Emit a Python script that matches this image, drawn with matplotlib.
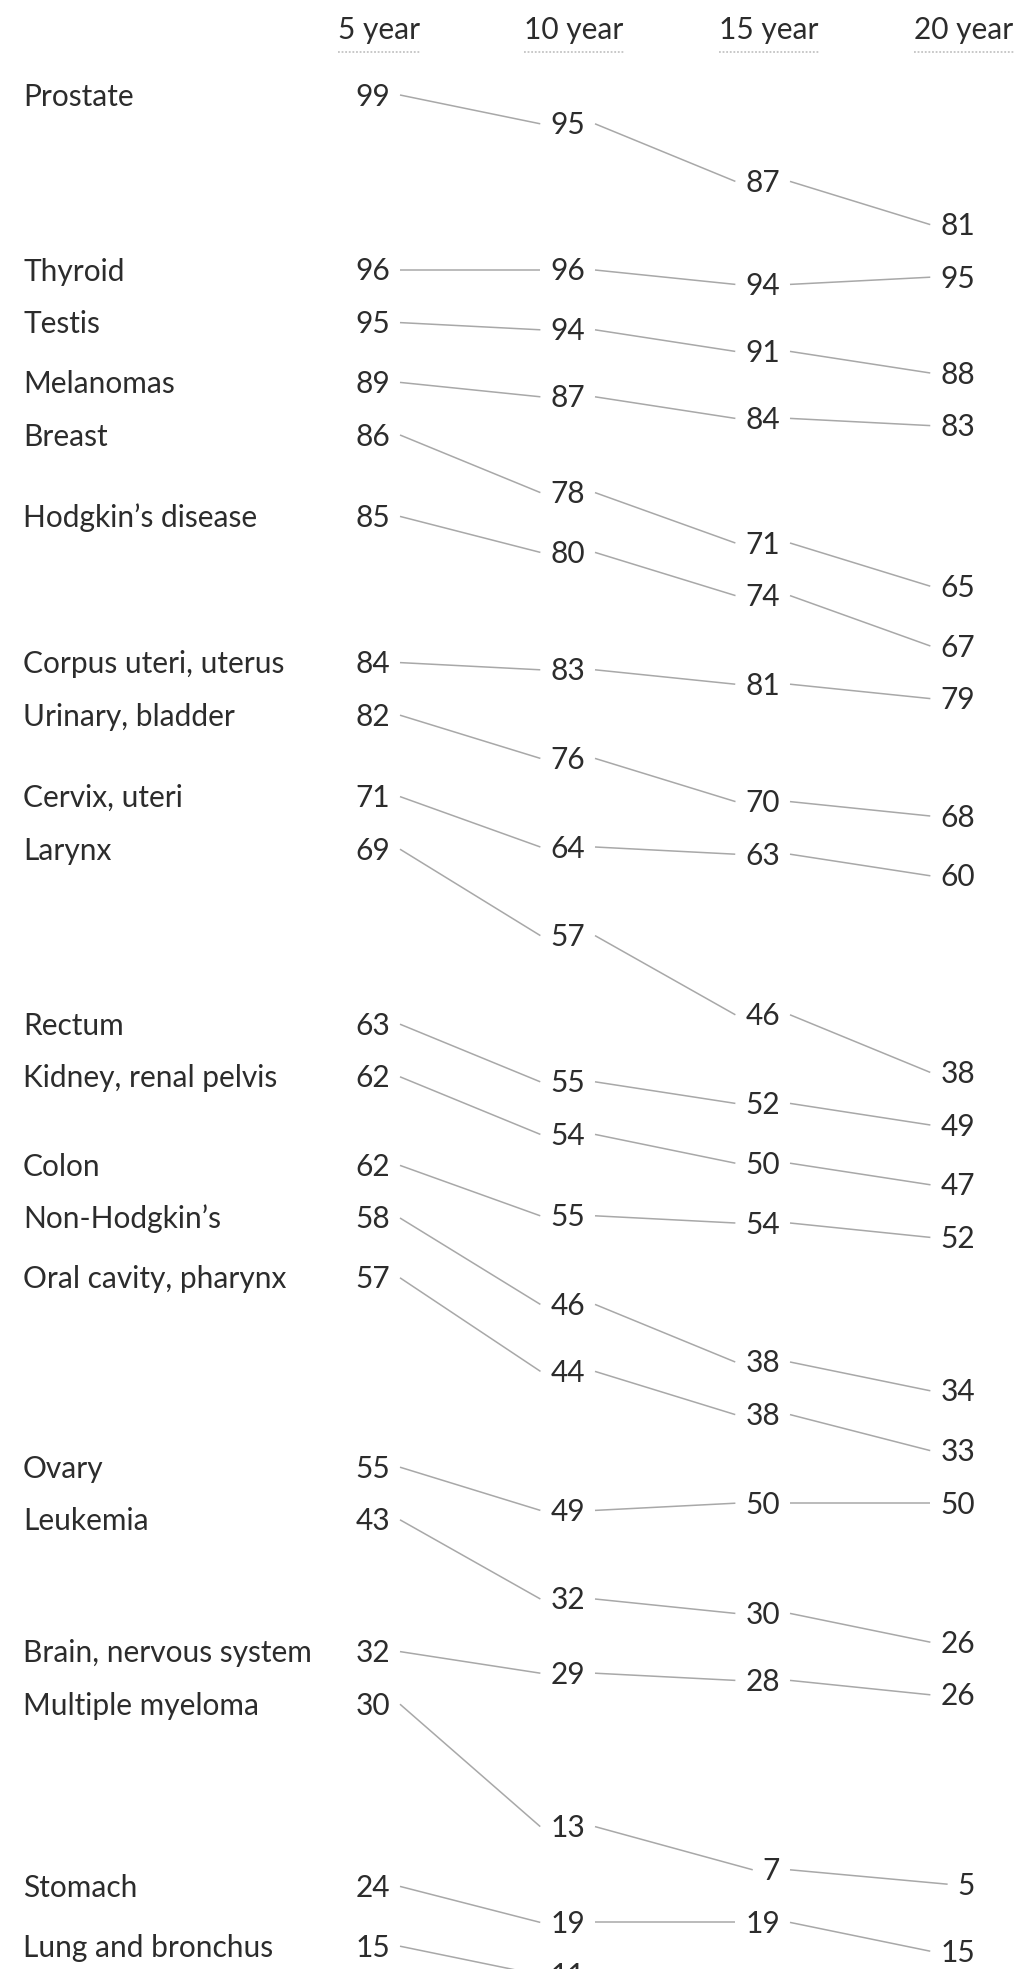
import numpy as np
import matplotlib
matplotlib.use("Agg")
import matplotlib.pyplot as plt
from matplotlib.transforms import offset_copy

plt.rcParams['font.family'] = ['Lato', 'DejaVu Sans']

# ===== Data: relative survival rates (%) by years after diagnosis =====
cancers = ["Prostate", "Thyroid", "Testis", "Melanomas", "Breast",
           "Hodgkin\u2019s disease", "Corpus uteri, uterus", "Urinary, bladder",
           "Cervix, uteri", "Larynx", "Rectum", "Kidney, renal pelvis", "Colon",
           "Non-Hodgkin\u2019s", "Oral cavity, pharynx", "Ovary", "Leukemia",
           "Brain, nervous system", "Multiple myeloma", "Stomach", "Lung and bronchus"]
yr5 = [99, 96, 95, 89, 86, 85, 84, 82, 71, 69, 63, 62, 62, 58, 57, 55, 43, 32, 30, 24, 15]
yr10 = [95, 96, 94, 87, 78, 80, 83, 76, 64, 57, 55, 54, 55, 46, 44, 49, 32, 29, 13, 19, 11]
yr15 = [87, 94, 91, 84, 71, 74, 81, 70, 63, 46, 52, 50, 54, 38, 38, 50, 30, 28, 7, 19, 8]
yr20 = [81, 95, 88, 83, 65, 67, 79, 68, 60, 38, 49, 47, 52, 34, 33, 50, 26, 26, 5, 15, 6]
columns = ["5 year", "10 year", "15 year", "20 year"]

# ===== Layout settings (pixels at dpi 100) =====
W_PX, H_PX = 1020, 1969
PX_PER_PT = 7.2        # vertical pixels per percentage point
MIN_GAP_PX = 52.6      # min distance between labels in one column
TOP_PX = 95            # centre of first row
COL0_PX = 390          # right edge of first number column
COL_STEP_PX = 195
LABEL_X_PX = 23
HEADER_BASE_PX = 39
UNDERLINE_PX = 52
FS = 21.5
TEXT_C = '#2c2c2c'
LINE_C = '#a8a8a8'

# ===== Slopegraph layout: each row shifted down until it clears the rows above =====
vals = np.array([yr5, yr10, yr15, yr20], dtype=float).T
gap = MIN_GAP_PX / PX_PER_PT
pos = np.zeros_like(vals)
col_max = None
for i, row in enumerate(vals):
    rel = row[0] - row
    off = 0.0 if col_max is None else np.max(col_max + gap - rel)
    pos[i] = off + rel
    col_max = pos[i] if col_max is None else np.maximum(col_max, pos[i])

fig = plt.figure(figsize=(W_PX / 100, H_PX / 100), dpi=100)
ax = fig.add_axes([0, 0, 1, 1])
ax.set_xlim(-COL0_PX / COL_STEP_PX, (W_PX - COL0_PX) / COL_STEP_PX)
ax.set_ylim((H_PX - TOP_PX) / PX_PER_PT, -TOP_PX / PX_PER_PT)
ax.axis('off')

# baseline sits half a digit height below the row centre
base_tf = offset_copy(ax.transData, fig=fig, x=0, y=-10.5, units='dots')
px = lambda p: p / COL_STEP_PX  # horizontal pixels -> data units

# ===== Headers =====
hdr_y = (HEADER_BASE_PX - TOP_PX) / PX_PER_PT
ul_y = (UNDERLINE_PX - TOP_PX) / PX_PER_PT
headers = []
for j, name in enumerate(columns):
    headers.append(ax.text(j - px(11), hdr_y, name, ha='center', va='baseline',
                           fontsize=FS, color=TEXT_C))

# ===== Category labels and numbers =====
num_texts = []
for i, name in enumerate(cancers):
    ax.text(px(LABEL_X_PX - COL0_PX), pos[i, 0], name, ha='left', va='baseline',
            fontsize=FS, color=TEXT_C, transform=base_tf)
    row_texts = []
    for j in range(len(columns)):
        row_texts.append(ax.text(j, pos[i, j], f"{int(vals[i, j])}", ha='right',
                                 va='baseline', fontsize=FS, color=TEXT_C,
                                 transform=base_tf))
    num_texts.append(row_texts)

fig.canvas.draw()
renderer = fig.canvas.get_renderer()
inv = ax.transData.inverted()

def x_extent(t):
    bb = t.get_window_extent(renderer)
    x0 = inv.transform((bb.x0, 0))[0]
    x1 = inv.transform((bb.x1, 0))[0]
    return x0, x1

# dotted underline under the headers
for t in headers:
    x0, x1 = x_extent(t)
    ax.plot([x0, x1], [ul_y, ul_y], color='#c4c4c4', lw=1.3, ls=(0, (1, 1)))

# ===== Connecting slopes =====
pad = px(10)
for i in range(len(cancers)):
    for j in range(len(columns) - 1):
        _, r = x_extent(num_texts[i][j])
        l, _ = x_extent(num_texts[i][j + 1])
        ax.plot([r + pad, l - pad], [pos[i, j], pos[i, j + 1]],
                color=LINE_C, lw=1.1, solid_capstyle='butt')

fig.savefig('out.png', dpi=100, facecolor='white')
